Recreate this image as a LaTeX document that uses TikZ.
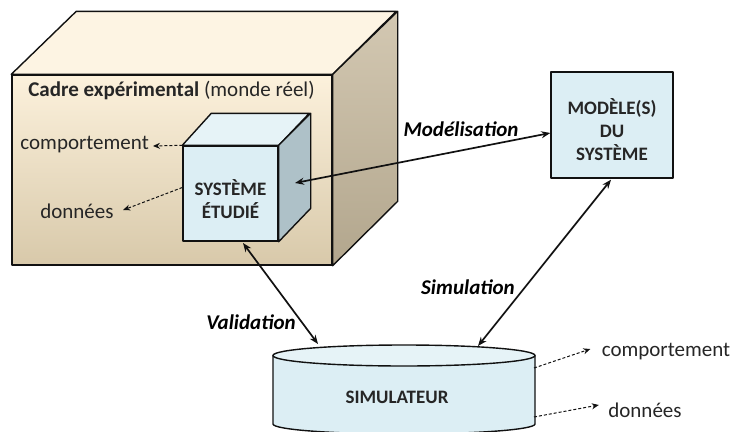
\documentclass[tikz,border=0pt]{standalone}
\usepackage{fontspec}
\setmainfont{Carlito}
\usetikzlibrary{arrows.meta,calc}
\definecolor{creamtop}{HTML}{FCF1DC}
\definecolor{creambot}{HTML}{D8C9AA}
\definecolor{creamtopface}{HTML}{FDF4E3}
\definecolor{sidetop}{HTML}{D3C8B2}
\definecolor{sidebot}{HTML}{B2A68D}
\definecolor{bluefront}{HTML}{DCEEF4}
\definecolor{bluetop}{HTML}{E6F3F7}
\definecolor{blueside}{HTML}{AEC1C8}
\definecolor{edge}{HTML}{111111}
\tikzset{
  face/.style={draw=edge, line width=1.4pt, line join=round},
  boldlbl/.style={font=\fontsize{19}{23}\selectfont\bfseries, align=center, text=black!85},
  plainlbl/.style={font=\fontsize{21}{25}\selectfont, text=black!85},
  arrlbl/.style={font=\fontsize{21}{25}\selectfont\bfseries\itshape, text=black},
  biarrow/.style={line width=1.7pt, draw=edge, {Stealth[length=9pt,width=7pt]}-{Stealth[length=9pt,width=7pt]}},
  dasharrow/.style={line width=1pt, draw=edge, dash pattern=on 3pt off 2pt, -{Stealth[length=7pt,width=6pt]}}
}
\begin{document}
\begin{tikzpicture}[x=1pt,y=-1pt]
\useasboundingbox (0,0) rectangle (736,431);
% ---- big box (experimental frame)
\node[face, minimum width=320pt, minimum height=190pt, inner sep=0pt, top color=creamtop, bottom color=creambot] (cadre) at (172,170) {};
\path[face, fill=creamtopface] (cadre.north west) -- ++(65,-63) -- ++(320,0) -- (cadre.north east) -- cycle;
\path[face, top color=sidetop, bottom color=sidebot] (cadre.north east) -- ++(65,-63) -- ++(0,190) -- (cadre.south east) -- cycle;
\node[plainlbl, anchor=center] (cadrelbl) at (171.5,90) {\textbf{Cadre expérimental} (monde réel)};
% ---- small cube (system)
\node[face, minimum width=95pt, minimum height=95pt, inner sep=0pt, fill=bluefront] (sys) at (230.5,193.5) {};
\path[face, fill=bluetop] (sys.north west) -- ++(29,-32) -- ++(98,0) -- (sys.north east) -- cycle;
\path[face, fill=blueside] (sys.north east) -- ++(32,-32) -- ++(0,95) -- (sys.south east) -- cycle;
\node[boldlbl] (systxt) at (230.5,199.5) {SYSTÈME\\ÉTUDIÉ};
% ---- model box
\node[face, minimum width=122pt, minimum height=106pt, inner sep=0pt, fill=bluefront] (mod) at (612,125) {};
\node[boldlbl] (modtxt) at (612,129.5) {MODÈLE(S)\\DU\\SYSTÈME};
% ---- simulator cylinder
\path[face, fill=bluefront] (273,355.5) -- (273,424) arc[start angle=180, end angle=360, x radius=131pt, y radius=10pt] -- (535,355.5) -- cycle;
\path[face, fill=bluetop] (404,355.5) ellipse[x radius=131pt, y radius=10.5pt];
\coordinate (simtopL) at (318,344);
\coordinate (simtopR) at (478,346);
\node[boldlbl] (simtxt) at (397,397) {SIMULATEUR};
% ---- connectors
\coordinate (sysR) at (295,183);
\coordinate (modW) at ($(mod.west)+(0,8)$);
\draw[biarrow] (sysR) -- (modW);
\node[arrlbl] (lmod) at (461,129) {Modélisation};
\coordinate (sysB) at (243,243);
\draw[biarrow] (sysB) -- (simtopL);
\node[arrlbl] (lval) at (251,322) {Validation};
\coordinate (modS) at ($(mod.south)+(-1,1)$);
\draw[biarrow] (modS) -- (simtopR);
\node[arrlbl] (lsim) at (468,287) {Simulation};
% ---- outputs (real system)
\node[plainlbl, anchor=east, inner sep=0pt] (comp1) at (149,145) {comportement};
\draw[dasharrow] (sys.north west) -- ($(comp1.east)+(4,1)$);
\node[plainlbl] (don1) at (77,211) {données};
\draw[dasharrow] ($(sys.west)+(0,-6)$) -- ($(don1.east)+(6,-1)$);
% ---- outputs (simulator)
\coordinate (simR1) at (534,368);
\coordinate (simR2) at (534,417);
\node[plainlbl] (comp2) at (666,352) {comportement};
\draw[dasharrow] (simR1) -- ($(comp2.west)+(-8,-3)$);
\node[plainlbl] (don2) at (645,410) {données};
\draw[dasharrow] (simR2) -- ($(don2.west)+(-6,-5)$);
\end{tikzpicture}
\end{document}
